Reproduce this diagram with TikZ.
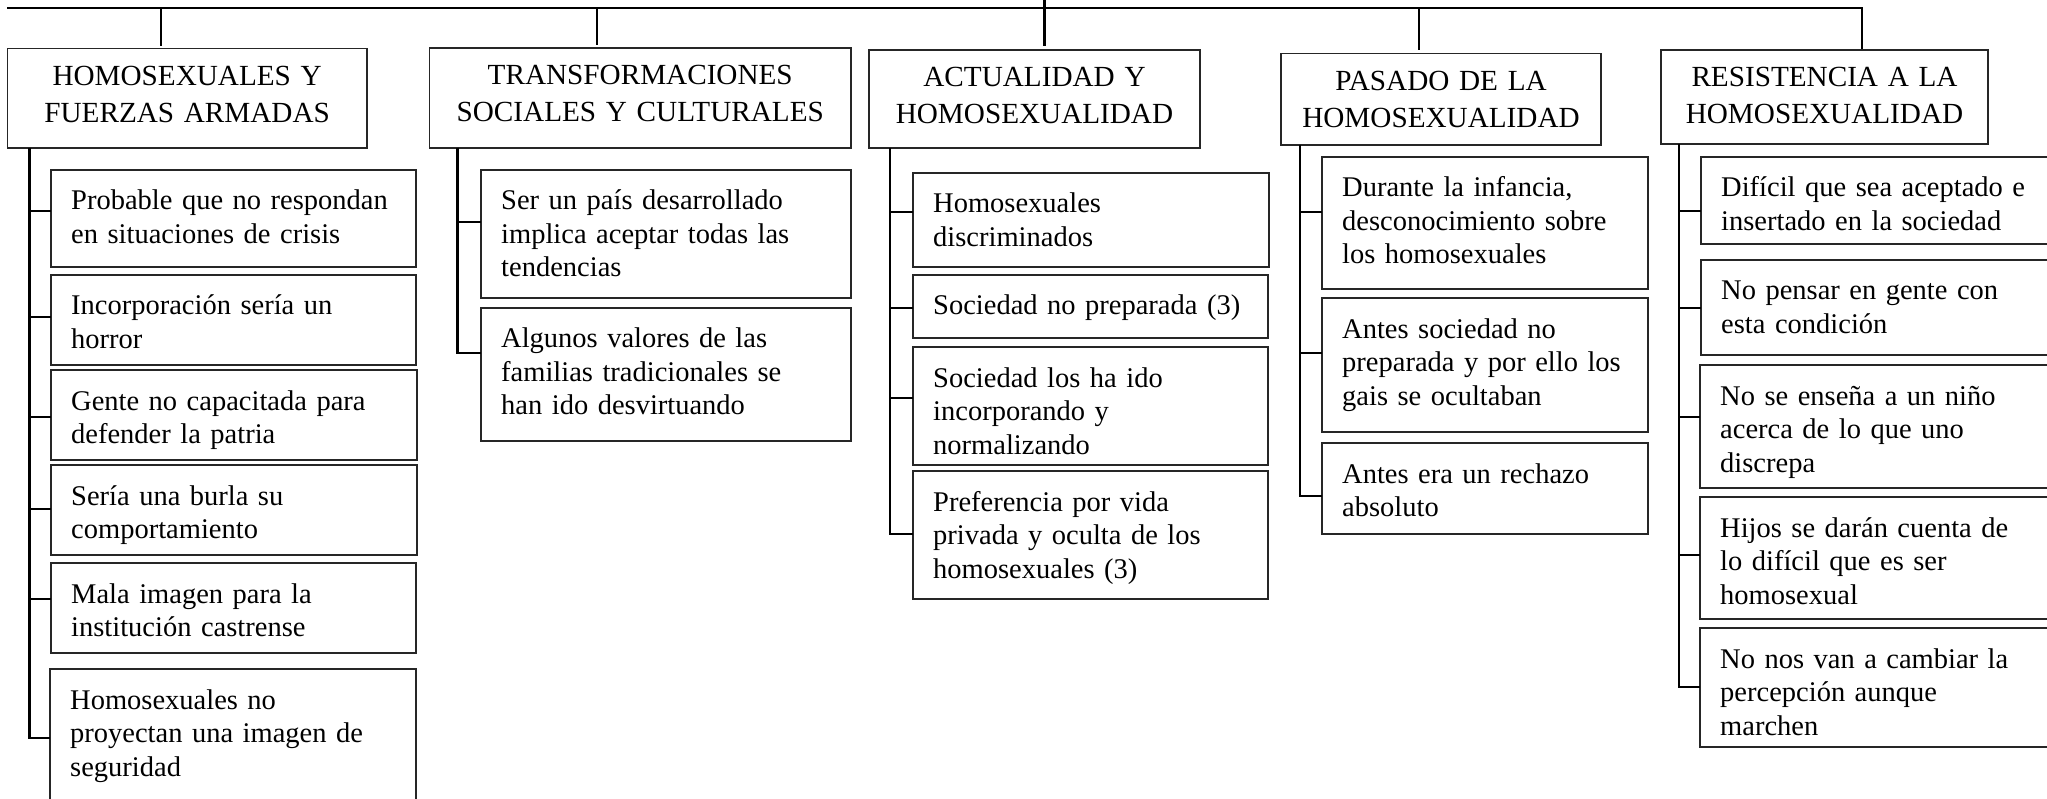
\documentclass[tikz,border=0pt]{standalone}
\usepackage{fontspec}
\setmainfont{Liberation Serif}
\tikzset{
  box/.style={draw=black!85, line width=1.4pt, inner sep=0pt, outer sep=0pt, anchor=north west},
  ctext/.style={font=\fontsize{28.5}{33.5}\selectfont, text width=400pt, align=left, inner sep=0pt, anchor=base west},
  htext/.style={font=\fontsize{29.2}{37}\selectfont, text width=430pt, align=center, inner sep=0pt, anchor=base},
  conn/.style={draw=black, line width=2.4pt},
}
\newcommand\childbx[6]{%
  \node[box, minimum width={#4-#2}, minimum height={#5-#3}] (#1) at (#2,#3) {};
  \node[ctext] (#1t) at ([xshift=20pt,yshift=-40pt]#1.north west) {#6};}
\newcommand\headbx[6]{%
  \node[box, minimum width={#4-#2}, minimum height={#5-#3}] (#1) at (#2,#3) {};
  \node[htext] (#1t) at ([yshift=-37pt]#1.north) {#6};}
\newcommand\brch[3]{\draw[conn] (#1 |- 0,#3) -- (#2.west |- 0,#3);}
\begin{document}
\begin{tikzpicture}[x=1pt,y=-1pt]
\useasboundingbox (0,0) rectangle (2047,799);
\clip (0,0) rectangle (2047,799);

% headers
\headbx{h1}{7.3}{48.3}{367}{148}{HOMOSEXUALES Y\\FUERZAS ARMADAS}
\headbx{h2}{429.5}{48}{851}{148}{TRANSFORMACIONES\\SOCIALES Y CULTURALES}
\headbx{h3}{869}{50}{1200}{148}{ACTUALIDAD Y\\HOMOSEXUALIDAD}
\headbx{h4}{1281}{53.3}{1601}{145}{PASADO DE LA\\HOMOSEXUALIDAD}
\headbx{h5}{1661}{50}{1988}{144}{RESISTENCIA A LA\\HOMOSEXUALIDAD}

% column 1
\childbx{c11}{51}{170}{416}{267}{Probable que no respondan\\en situaciones de crisis}
\childbx{c12}{51}{275}{416}{365}{Incorporación sería un\\horror}
\childbx{c13}{51}{370}{417}{460}{Gente no capacitada para\\defender la patria}
\childbx{c14}{51}{465}{417}{555}{Sería una burla su\\comportamiento}
\childbx{c15}{51}{563}{416}{653}{Mala imagen para la\\institución castrense}
\childbx{c16}{50}{669}{416}{812}{Homosexuales no\\proyectan una imagen de\\seguridad}

% column 2
\childbx{c21}{481}{170}{851}{298}{Ser un país desarrollado\\implica aceptar todas las\\tendencias}
\childbx{c22}{481}{308}{851}{441}{Algunos valores de las\\familias tradicionales se\\han ido desvirtuando}

% column 3
\childbx{c31}{913}{173}{1269}{267}{Homosexuales\\discriminados}
\childbx{c32}{913}{275}{1268}{338}{Sociedad no preparada (3)}
\childbx{c33}{913}{347}{1268}{465}{Sociedad los ha ido\\incorporando y\\normalizando}
\childbx{c34}{913}{471}{1268}{599}{Preferencia por vida\\privada y oculta de los\\homosexuales (3)}

% column 4
\childbx{c41}{1322}{157}{1648}{289}{Durante la infancia,\\desconocimiento sobre\\los homosexuales}
\childbx{c42}{1322}{298}{1648}{432}{Antes sociedad no\\preparada y por ello los\\gais se ocultaban}
\childbx{c43}{1322}{443}{1648}{534}{Antes era un rechazo\\absoluto}

% column 5
\childbx{c51}{1701}{157}{2065}{244}{Difícil que sea aceptado e\\insertado en la sociedad}
\childbx{c52}{1701}{260}{2065}{355}{No pensar en gente con\\esta condición}
\childbx{c53}{1700}{365}{2065}{488}{No se enseña a un niño\\acerca de lo que uno\\discrepa}
\childbx{c54}{1700}{497}{2065}{619}{Hijos se darán cuenta de\\lo difícil que es ser\\homosexual}
\childbx{c55}{1700}{628}{2065}{747}{No nos van a cambiar la\\percepción aunque\\marchen}

% top connectors
\coordinate (topL) at (7.3,8.3);
\coordinate (topC) at (1044.3,0);
\coordinate (v1) at (160.7,45.7);
\coordinate (v2) at (597,45.5);
\coordinate (v3) at (1044.3,45.7);
\coordinate (v4) at (1419,50);
\coordinate (v5) at (1862,49.5);
\draw[conn] (topL) -- (topL -| v5) -- (v5);
\draw[conn] (v1 |- topL) -- (v1);
\draw[conn] (v2 |- topL) -- (v2);
\draw[conn] (v4 |- topL) -- (v4);
\draw[conn] (topC) -- (v3);

% spines
\coordinate (s1) at (29.5,0);
\coordinate (s2) at (457.6,0);
\coordinate (s3) at (890,0);
\coordinate (s4) at (1300,0);
\coordinate (s5) at (1679,0);

\draw[conn] (s1 |- h1.south) |- (c16.west |- 0,738);
\brch{s1}{c11}{211}
\brch{s1}{c12}{317}
\brch{s1}{c13}{417}
\brch{s1}{c14}{509}
\brch{s1}{c15}{599}

\draw[conn] (s2 |- h2.south) |- (c22.west |- 0,353);
\brch{s2}{c21}{222}

\draw[conn] (s3 |- h3.south) |- (c34.west |- 0,534);
\brch{s3}{c31}{212}
\brch{s3}{c32}{308}
\brch{s3}{c33}{398}

\draw[conn] (s4 |- h4.south) |- (c43.west |- 0,496);
\brch{s4}{c41}{212}
\brch{s4}{c42}{353}

\draw[conn] (s5 |- h5.south) |- (c55.west |- 0,687);
\brch{s5}{c51}{211}
\brch{s5}{c52}{308}
\brch{s5}{c53}{417}
\brch{s5}{c54}{555}
\end{tikzpicture}
\end{document}
